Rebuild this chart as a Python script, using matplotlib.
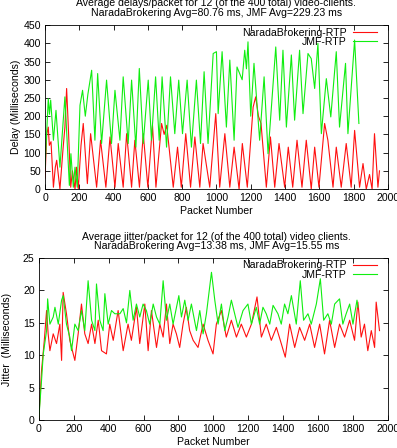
import matplotlib
matplotlib.use("Agg")
import matplotlib.pyplot as plt

plt.rcParams['font.family'] = ['Liberation Sans', 'DejaVu Sans']
plt.rcParams['font.size'] = 7.6

# delay per packet (ms) - peak/trough vertices
nb_delay_x = [0, 10, 19, 25, 35, 49, 60, 68, 87, 105, 116, 126, 136, 150, 160, 175, 184, 194,
              210, 223, 247, 266, 301, 324, 355, 379, 408, 427, 456, 476, 505, 524, 551, 573,
              600, 627, 647, 680, 695, 710, 748, 773, 795, 821, 849, 874, 903, 922, 961, 996,
              1019, 1049, 1078, 1103, 1132, 1151, 1180, 1214, 1229, 1245, 1260, 1291, 1315,
              1340, 1365, 1398, 1419, 1445, 1470, 1499, 1524, 1553, 1573, 1598, 1631, 1650,
              1680, 1699, 1728, 1757, 1786, 1806, 1835, 1855, 1874, 1893, 1908, 1922, 1942, 1951]
nb_delay_y = [30, 150, 170, 120, 130, 5, 60, 79, 0, 110, 170, 276, 170, 5, 50, 0, 60, 0,
              120, 180, 15, 152, 5, 134, 5, 143, 5, 125, 5, 152, 5, 134, 5, 152,
              5, 175, 5, 180, 150, 175, 5, 115, 5, 152, 5, 143, 5, 125, 5, 207,
              5, 152, 5, 115, 0, 125, 5, 225, 253, 200, 180, 5, 143,
              5, 125, 5, 115, 5, 134, 5, 134, 0, 115, 5, 180, 134,
              5, 115, 5, 125, 5, 161, 5, 70, 0, 40, 0, 152, 5, 50]

jmf_delay_x = [0, 19, 26, 33, 49, 64, 87, 105, 116, 142, 151, 165, 175, 188, 204, 219, 235,
               250, 272, 291, 307, 330, 359, 388, 408, 437, 456, 485, 505, 530, 550, 573, 602,
               621, 645, 666, 683, 709, 732, 757, 780, 802, 829, 854, 883, 907, 928, 951, 981,
               1000, 1010, 1033, 1058, 1078, 1103, 1120, 1150, 1165, 1175, 1184, 1200, 1219,
               1252, 1278, 1301, 1346, 1369, 1388, 1408, 1437, 1456, 1485, 1505, 1534, 1553,
               1573, 1592, 1612, 1641, 1667, 1699, 1718, 1753, 1767, 1806, 1831]
jmf_delay_y = [60, 248, 205, 244, 134, 216, 60, 180, 253, 10, 97, 5, 60, 5, 230, 271, 200,
               260, 326, 134, 317, 125, 299, 125, 271, 134, 308, 125, 299, 115, 331, 125, 299,
               134, 308, 134, 308, 115, 308, 152, 299, 152, 299, 115, 299, 125, 322, 125, 372,
               377, 207, 377, 170, 354, 134, 335, 300, 381, 330, 404, 200, 345,
               134, 308, 97, 390, 189, 381, 170, 368, 189, 381, 207, 372, 358,
               276, 400, 152, 303, 198, 377, 170, 345, 152, 409, 180]

# jitter per packet (ms)
nb_jit_x = [0, 15, 31, 44, 53, 63, 82, 101, 120, 130, 139, 158, 177, 206, 225, 244, 263, 282,
            302, 321, 340, 359, 387, 406, 426, 454, 483, 511, 530, 559, 578, 607, 626, 645,
            674, 693, 712, 731, 750, 769, 788, 807, 826, 845, 864, 884, 912, 941, 969, 998,
            1017, 1046, 1074, 1103, 1132, 1160, 1189, 1218, 1250, 1275, 1303, 1332, 1361,
            1389, 1412, 1437, 1466, 1494, 1523, 1552, 1580, 1609, 1637, 1666, 1695, 1723,
            1752, 1781, 1809, 1828, 1847, 1866, 1885, 1905, 1924, 1933, 1943, 1952]
nb_jit_y = [0.4, 7.6, 12.3, 16.9, 13.3, 10.7, 13.3, 11.8, 14.8, 9.2, 19.7, 16.4, 12.3, 9.2,
            13.3, 17.9, 13.3, 11.8, 14.8, 11.8, 15.4, 10.7, 10.2, 14.8, 12.3, 16.9, 10.7,
            14.8, 12.3, 17.4, 11.8, 17.9, 10.7, 16.9, 11.2, 14.8, 12.8, 17.9, 11.8, 14.8,
            13.3, 11.2, 14.8, 17.4, 13.8, 12.3, 11.2, 14.8, 12.3, 10.2, 14.8, 16.9, 12.8,
            15.4, 12.8, 14.8, 12.8, 14.8, 19.0, 12.8, 14.8, 12.3, 14.3, 11.8, 9.7, 14.8,
            11.2, 14.3, 12.3, 14.8, 11.2, 14.8, 10.2, 15.4, 11.2, 14.8, 12.8, 15.4, 12.3,
            18.2, 12.8, 14.8, 10.7, 13.8, 11.2, 18.2, 15.9, 13.8]

jmf_jit_x = [0, 15, 25, 44, 50, 63, 82, 92, 111, 130, 139, 158, 177, 187, 206, 225, 244, 263,
             282, 302, 321, 330, 349, 368, 378, 397, 416, 435, 464, 483, 502, 521, 540, 559,
             578, 597, 616, 635, 655, 674, 693, 712, 731, 750, 769, 802, 817, 836, 855, 874,
             903, 922, 941, 960, 989, 1008, 1027, 1046, 1065, 1084, 1103, 1122, 1141, 1170,
             1198, 1218, 1246, 1265, 1284, 1303, 1323, 1342, 1370, 1389, 1408, 1427, 1447,
             1475, 1498, 1517, 1542, 1561, 1590, 1613, 1632, 1656, 1676, 1695, 1723, 1742,
             1761, 1781, 1800, 1823, 1828]
jmf_jit_y = [0.4, 6.1, 10.2, 13.8, 18.7, 14.8, 15.9, 17.4, 14.8, 18.5, 19.2, 14.8, 12.8, 10.7,
             14.8, 13.8, 16.9, 13.8, 21.5, 15.4, 13.8, 21.0, 15.4, 13.8, 19.5, 14.8, 16.9,
             16.4, 16.4, 17.2, 15.0, 20.0, 15.4, 17.9, 15.9, 17.9, 16.9, 14.8, 17.9, 15.9,
             14.8, 21.5, 15.4, 17.9, 14.8, 19.2, 15.9, 18.5, 15.4, 17.9, 13.8, 16.9, 13.3,
             16.4, 22.8, 18.5, 14.8, 17.9, 13.8, 15.9, 18.5, 16.4, 14.3, 16.9, 17.9, 14.8,
             17.4, 14.8, 17.4, 16.4, 14.8, 17.7, 16.4, 14.8, 17.9, 16.4, 19.2, 14.8, 21.5,
             15.4, 16.4, 14.8, 17.9, 21.8, 15.4, 16.4, 14.8, 17.9, 18.7, 14.8, 16.4, 17.9,
             14.8, 18.5, 17.4]

xticks = list(range(0, 2001, 200))

fig = plt.figure(figsize=(3.97, 4.48), dpi=100)
ax1 = fig.add_axes([0.1134, 0.578, 0.8636, 0.366])
ax2 = fig.add_axes([0.098, 0.0625, 0.879, 0.3615])

RED = '#ff1010'
GREEN = '#10ee10'


def style(ax, anchor):
    ax.set_xlim(0, 2000)
    ax.set_xticks(xticks)
    ax.tick_params(direction='in', top=True, right=True, length=3.5, width=0.6, pad=3)
    for s in ax.spines.values():
        s.set_linewidth(0.6)
    ax.set_xlabel('Packet Number', labelpad=2)
    ax.legend(loc='upper right', bbox_to_anchor=anchor, frameon=False,
              markerfirst=False, handlelength=2.3, handletextpad=0.55,
              labelspacing=-0.08, borderpad=0.0, borderaxespad=0.0)


ax1.plot(nb_delay_x, nb_delay_y, color=RED, lw=0.8, label='NaradaBrokering-RTP')
ax1.plot(jmf_delay_x, jmf_delay_y, color=GREEN, lw=0.8, label='JMF-RTP')
ax1.set_ylim(0, 450)
ax1.set_yticks(range(0, 451, 50))
ax1.set_ylabel('Delay (Milliseconds)', labelpad=2)
style(ax1, (0.968, 0.985))

ax2.plot(nb_jit_x, nb_jit_y, color=RED, lw=0.8, label='NaradaBrokering-RTP')
ax2.plot(jmf_jit_x, jmf_jit_y, color=GREEN, lw=0.8, label='JMF-RTP')
ax2.set_ylim(0, 25)
ax2.set_yticks(range(0, 26, 5))
ax2.set_ylabel('Jitter  (Milliseconds)', labelpad=8)
style(ax2, (0.969, 0.985))

fig.text(0.545, 1 - 3 / 448, 'Average delays/packet for 12 (of the 400 total) video-clients.',
         ha='center', va='center')
fig.text(0.545, 1 - 12.5 / 448, 'NaradaBrokering Avg=80.76 ms, JMF Avg=229.23 ms',
         ha='center', va='center')
fig.text(0.545, 1 - 236.5 / 448, 'Average jitter/packet for 12 (of the 400 total) video clients.',
         ha='center', va='center')
fig.text(0.545, 1 - 245.5 / 448, 'NaradaBrokering Avg=13.38 ms, JMF Avg=15.55 ms',
         ha='center', va='center')

fig.savefig('out.png', dpi=100)
